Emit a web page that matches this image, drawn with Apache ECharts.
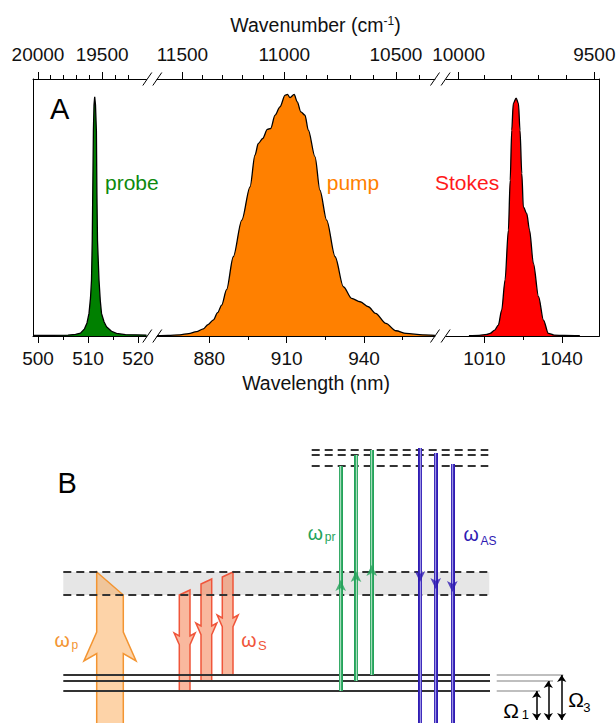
<!DOCTYPE html>
<html>
<head>
<meta charset="utf-8">
<script src="https://cdn.jsdelivr.net/npm/echarts@6/dist/echarts.min.js"></script>
<style>
  html, body { margin: 0; padding: 0; background: #fff; }
  #chart { width: 616px; height: 723px; }
</style>
</head>
<body>
<div id="chart"></div>
<script>
// ---------- panel A: spectra (wavelength nm, normalised intensity) ----------
const probeWl = [499, 503, 506, 507.5, 508.5, 509.3, 509.8, 510.2, 510.5, 510.7, 510.85, 510.95, 511.08, 511.2, 511.34, 511.5, 511.68, 511.78, 511.9, 512.2, 512.45, 512.7, 513.2, 513.7, 514.7, 515.7, 517.5, 521.7];
const probeInt = [0.003, 0.003, 0.004, 0.007, 0.012, 0.03, 0.055, 0.095, 0.16, 0.235, 0.4, 0.6, 0.86, 0.97, 1.005, 0.97, 0.86, 0.6, 0.4, 0.235, 0.15, 0.095, 0.06, 0.039, 0.02, 0.011, 0.006, 0.004];

const pumpWl = [859.7, 864, 868.6, 872, 875, 877.7, 879.5, 881.6, 883.2, 884.8, 886.7, 889.3, 892.6, 895.8, 897.7, 899, 900.7, 902.5, 903.8, 905.5, 907.4, 909.4, 910.3, 911.3, 912.9, 914.1, 915.5, 917.1, 918.4, 921, 922.9, 925.5, 928.8, 932, 935.2, 938.5, 941.7, 944.5, 948.5, 952.4, 956.3, 962.8, 967.5];
const pumpInt = [0.001, 0.002, 0.005, 0.01, 0.018, 0.03, 0.048, 0.068, 0.098, 0.13, 0.195, 0.333, 0.487, 0.627, 0.76, 0.809, 0.83, 0.868, 0.872, 0.928, 0.963, 1.012, 1.015, 1.002, 1.015, 0.984, 0.942, 0.928, 0.865, 0.753, 0.613, 0.487, 0.333, 0.207, 0.158, 0.144, 0.123, 0.095, 0.053, 0.022, 0.011, 0.005, 0.003];

const stokesWl = [1004, 1008, 1011, 1012.2, 1014, 1015.4, 1016.7, 1018, 1019.3, 1020, 1020.6, 1021.2, 1022.3, 1023.2, 1023.8, 1024.5, 1025.1, 1026.4, 1027.5, 1029, 1031, 1032.9, 1034.8, 1037, 1041, 1047];
const stokesInt = [0.001, 0.003, 0.007, 0.011, 0.025, 0.046, 0.109, 0.235, 0.445, 0.655, 0.865, 0.977, 1.0, 0.977, 0.865, 0.683, 0.543, 0.515, 0.445, 0.305, 0.165, 0.067, 0.011, 0.004, 0.002, 0.001];

// broken axis: three wavelength windows
const segRanges = [[499, 521.7], [859.7, 967.5], [995.1, 1054.6]];
const nmTicks = [[500, 510, 520], [880, 910, 940], [1010, 1040]];
const nmMinor = [[505, 515], [895, 925, 955], [1025]];
const wnTicks = [[20000, 19500], [11500, 11000, 10500], [10000, 9500]];
const wnMinor = [[19900, 19800, 19700, 19600, 19400, 19300],
                 [11400, 11300, 11200, 11100, 10900, 10800, 10700, 10600, 10400],
                 [9900, 9800, 9700, 9600]];

// ---------- panel B: level diagram (energy, arbitrary units) ----------
const groundLevels = [0, 10, 16];
const bandEdges = [96, 119];
const virtualLevels = [225, 236, 241];
// [xLeft, xRight, topLeft, topRight, end, barb, direction]
const pumpArrow = [[96.7, 123.3, 119, 96, -45, 59, 1]];
const stokesArrows = [[179.3, 190, 96, 101, 0, 58, -1], [201, 211.7, 107, 112, 10, 68, -1], [222.3, 233, 114, 119, 16, 76, -1]];
const probeX = [340.7, 356, 371.7];
const probeHeads = [116, 125, 131];
const antiStokesX = [420, 435.7, 452.3];
const antiStokesHeads = [104, 97, 94];
const omegaX = [536.7, 548.3, 561.7];
const omegaLevelEnds = [540, 553, 563.3];

const FONT = '"Liberation Sans", Arial, Helvetica, sans-serif';
const toNm = wn => 1e7 / wn;
const zip = (a, b) => a.map((v, i) => [v, b[i]]);

const chart = echarts.init(document.getElementById('chart'), null, { renderer: 'svg' });

const xAxes = [];
segRanges.forEach(([min, max], i) => {
  const base = {
    type: 'value', gridIndex: i, min, max,
    splitLine: { show: false },
    axisLine: { show: false, onZero: false }
  };
  const labelStyle = { fontSize: 19, fontFamily: FONT, color: '#111' };
  const solid = { show: true, onZero: false, lineStyle: { color: '#000', width: 1 } };
  xAxes.push(
    { ...base, position: 'bottom', axisLine: solid,
      axisTick: { show: true, length: 7, customValues: nmTicks[i], lineStyle: { color: '#000' } },
      axisLabel: { show: true, customValues: nmTicks[i], margin: 13,
        formatter: v => String(Math.round(v)), ...labelStyle } },
    { ...base, position: 'bottom',
      axisTick: { show: true, length: 4, customValues: nmMinor[i], lineStyle: { color: '#000' } },
      axisLabel: { show: false } },
    { ...base, position: 'top', axisLine: solid,
      axisTick: { show: true, length: 7, customValues: wnTicks[i].map(toNm), lineStyle: { color: '#000' } },
      axisLabel: { show: true, customValues: wnTicks[i].map(toNm), margin: 15,
        formatter: v => String(Math.round(1e7 / v)), ...labelStyle } },
    { ...base, position: 'top',
      axisTick: { show: true, length: 4, customValues: wnMinor[i].map(toNm), lineStyle: { color: '#000' } },
      axisLabel: { show: false } }
  );
});
// panel B axes (hidden)
xAxes.push({ type: 'value', gridIndex: 3, min: 0, max: 616, show: false });

const yBase = { type: 'value', min: 0, max: 1.08, splitLine: { show: false },
  axisTick: { show: false }, axisLabel: { show: false } };
const yAxes = [
  { ...yBase, gridIndex: 0, position: 'left', axisLine: { show: true, onZero: false, lineStyle: { color: '#000', width: 1 } } },
  { ...yBase, gridIndex: 1, axisLine: { show: false } },
  { ...yBase, gridIndex: 2, position: 'right', axisLine: { show: true, onZero: false, lineStyle: { color: '#000', width: 1 } } },
  { type: 'value', gridIndex: 3, min: -32, max: 251, show: false }
];

const spectrum = (seg, wl, val, color, smooth) => ({
  type: 'line', xAxisIndex: seg * 4, yAxisIndex: seg,
  data: zip(wl, val), showSymbol: false, smooth, smoothMonotone: 'x',
  lineStyle: { color: '#000', width: 1.3 },
  areaStyle: { color, opacity: 1 }, z: 3
});

function arrowItem(fill, stroke) {
  return (params, api) => {
    const xl = api.value(0), xr = api.value(1), tl = api.value(2), tr = api.value(3);
    const end = api.value(4), barb = api.value(5), dir = api.value(6);
    const w = xr - xl, out = 0.48 * w;
    let pts;
    if (dir > 0) {
      const j1 = barb, tip = barb - 1.09 * w, j2 = barb - 0.81 * w;
      pts = [[xl, tl], [xr, tr], [xr, j1], [xr + out, tip], [xr, j2], [xr, end], [xl, end], [xl, j2], [xl - out, tip], [xl, j1]];
    } else {
      const tip = barb, j2 = barb - 0.28 * w, j1 = barb - 1.09 * w;
      pts = [[xl, tl], [xr, tr], [xr, j2], [xr + out, tip], [xr, j1], [xr, end], [xl, end], [xl, j1], [xl - out, tip], [xl, j2]];
    }
    return { type: 'polygon', shape: { points: pts.map(p => api.coord(p)) },
      style: { fill, stroke, lineWidth: 1.5 } };
  };
}

const hLines = (levels, x0, x1s) => levels.map((e, i) => ({ coords: [[x0, e], [Array.isArray(x1s) ? x1s[i] : x1s, e]] }));
const bLines = (extra) => Object.assign({ type: 'lines', coordinateSystem: 'cartesian2d', xAxisIndex: 12, yAxisIndex: 3, silent: true }, extra);

const GREEN = '#24a35a', BLUE = '#2f1cb3';

const series = [
  spectrum(0, probeWl, probeInt, '#008000', false),
  spectrum(1, pumpWl, pumpInt, '#ff8000', 0.3),
  spectrum(2, stokesWl, stokesInt, '#ff0000', 0.3),
  // band
  { type: 'custom', coordinateSystem: 'cartesian2d', xAxisIndex: 12, yAxisIndex: 3, z: 1,
    data: [[63.3, 489.3, bandEdges[0], bandEdges[1]]],
    renderItem: (params, api) => {
      const p0 = api.coord([api.value(0), api.value(3)]);
      const p1 = api.coord([api.value(1), api.value(2)]);
      return { type: 'rect', shape: { x: p0[0], y: p0[1], width: p1[0] - p0[0], height: p1[1] - p0[1] }, style: { fill: '#e6e6e6' } };
    } },
  { type: 'custom', coordinateSystem: 'cartesian2d', xAxisIndex: 12, yAxisIndex: 3, z: 2,
    data: pumpArrow, renderItem: arrowItem('rgba(251,158,62,0.45)', '#f39532') },
  { type: 'custom', coordinateSystem: 'cartesian2d', xAxisIndex: 12, yAxisIndex: 3, z: 2,
    data: stokesArrows, renderItem: arrowItem('rgba(243,113,61,0.5)', '#f0553a') },
  bLines({ z: 3, data: hLines(bandEdges, 63.3, 489.3), lineStyle: { color: '#333', width: 2, type: [8, 5], opacity: 1 } }),
  bLines({ z: 3, data: hLines(virtualLevels, 311.7, 488.3), lineStyle: { color: '#333', width: 2, type: [8, 5], opacity: 1 } }),
  bLines({ z: 3, data: hLines(groundLevels, 63.3, 490), lineStyle: { color: '#333', width: 2, opacity: 1 } }),
  bLines({ z: 3, data: hLines(groundLevels, 496.7, omegaLevelEnds), lineStyle: { color: '#aaa', width: 1.5, opacity: 1 } }),
  // probe (green) and anti-Stokes (blue) transitions
  bLines({ z: 4, data: probeX.map((x, i) => ({ coords: [[x, groundLevels[i]], [x, virtualLevels[i]]] })), lineStyle: { color: GREEN, width: 4, opacity: 1 } }),
  bLines({ z: 5, data: probeX.map((x, i) => ({ coords: [[x, groundLevels[i]], [x, virtualLevels[i]]] })), lineStyle: { color: '#a6dcbc', width: 1.3, opacity: 1 } }),
  bLines({ z: 4, data: antiStokesX.map((x, i) => ({ coords: [[x, virtualLevels[2 - i] + 2], [x, -45]] })), lineStyle: { color: BLUE, width: 4, opacity: 1 } }),
  bLines({ z: 5, data: antiStokesX.map((x, i) => ({ coords: [[x, virtualLevels[2 - i] + 2], [x, -45]] })), lineStyle: { color: '#9c94e6', width: 1.3, opacity: 1 } }),
  { type: 'scatter', xAxisIndex: 12, yAxisIndex: 3, z: 6, silent: true,
    data: probeX.map((x, i) => [x, probeHeads[i] - 5]), symbol: 'arrow', symbolSize: [8, 11], itemStyle: { color: GREEN } },
  { type: 'scatter', xAxisIndex: 12, yAxisIndex: 3, z: 6, silent: true,
    data: antiStokesX.map((x, i) => [x, antiStokesHeads[i] + 5]), symbol: 'arrow', symbolRotate: 180, symbolSize: [8, 11], itemStyle: { color: BLUE } },
  // Raman shifts
  bLines({ z: 4, data: omegaX.map((x, i) => ({ coords: [[x, groundLevels[i]], [x, -29]] })),
    symbol: ['arrow', 'arrow'], symbolSize: 7, lineStyle: { color: '#000', width: 1.5, opacity: 1 } })
];

// break marks on the broken axis
const breakX = [147.3, 157.3, 435, 445.6];
const slashes = [];
[79, 336].forEach(y => breakX.forEach(cx => slashes.push({
  type: 'line', silent: true, z: 10,
  shape: { x1: cx - 4.5, y1: y + 6.5, x2: cx + 4.5, y2: y - 6.5 },
  style: { stroke: '#000', lineWidth: 1 }
})));

const txt = (x, y, text, size, fill, extra) => ({
  type: 'text', x, y, z: 20, silent: true,
  style: Object.assign({ text, fontSize: size, fontFamily: FONT, fill, align: 'left', verticalAlign: 'middle' }, extra || {})
});

const texts = [
  { type: 'text', x: 315.5, y: 25, z: 20, silent: true,
    style: { text: '{a|Wavenumber (cm}{b|-1}{a|)}', align: 'center', verticalAlign: 'middle',
      rich: { a: { fontSize: 19.5, fontFamily: FONT, fill: '#111' },
              b: { fontSize: 12, fontFamily: FONT, fill: '#111', verticalAlign: 'top' } } } },
  txt(316, 383, 'Wavelength (nm)', 19.5, '#111', { align: 'center' }),
  txt(50, 109, 'A', 29, '#000'),
  txt(105, 182.7, 'probe', 21, '#0d8a0d'),
  txt(326.7, 182.7, 'pump', 21, '#ff8000'),
  txt(435, 182.7, 'Stokes', 21, '#ff1a1a'),
  txt(57.5, 482.5, 'B', 29, '#000'),
  txt(54.5, 639.5, 'ω', 19.5, '#f39532'),
  txt(71.5, 645.3, 'p', 12, '#f39532'),
  txt(241.2, 639.5, 'ω', 19.5, '#f0553a'),
  txt(258, 645.5, 'S', 13, '#f0553a'),
  txt(307.8, 532.8, 'ω', 19.5, GREEN),
  txt(324.8, 537, 'pr', 12, GREEN),
  txt(463.5, 533.8, 'ω', 19.5, BLUE),
  txt(480.5, 541, 'AS', 12, BLUE),
  txt(503.3, 710.2, 'Ω', 21, '#000'),
  txt(521.7, 714.8, '1', 13, '#000'),
  txt(568.3, 699.4, 'Ω', 21, '#000'),
  txt(583.3, 707, '3', 13, '#000')
];

chart.setOption({
  animation: false,
  backgroundColor: '#fff',
  grid: [
    { left: 33, top: 79, width: 113.5, height: 257, containLabel: false, outerBoundsMode: 'none' },
    { left: 157, top: 79, width: 277.9, height: 257, containLabel: false, outerBoundsMode: 'none' },
    { left: 446, top: 79, width: 153.4, height: 257, containLabel: false, outerBoundsMode: 'none' },
    { left: 0, top: 440, width: 616, height: 283, containLabel: false, outerBoundsMode: 'none' }
  ],
  xAxis: xAxes,
  yAxis: yAxes,
  series,
  graphic: slashes.concat(texts)
});
</script>
</body>
</html>
